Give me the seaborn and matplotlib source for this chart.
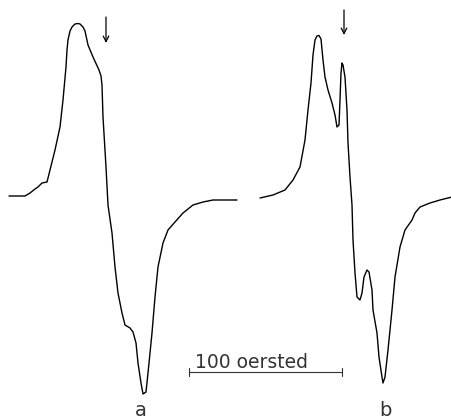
import matplotlib
matplotlib.use("Agg")
import pandas as pd
import seaborn as sns
import matplotlib.pyplot as plt

# traces (x = field position, y = signal, screen units, y grows downward)
a_x = [9, 25, 30, 35, 38, 42, 47, 55, 60, 63, 66, 67, 68, 70, 72, 75, 78, 80, 83, 85, 88, 93, 99,
       101, 102, 103, 106, 108, 112, 115, 118, 122, 125, 130, 133, 136, 138, 141, 143, 146, 148,
       152, 155, 158, 163, 168, 175, 183, 193, 203, 213, 237]
a_y = [196, 196, 193, 189, 187, 183, 182, 150, 127, 100, 67, 50, 40, 31, 27, 24, 23.5, 24, 27, 31,
       45, 57, 70, 76, 85, 117, 167, 205, 233, 267, 293, 313, 325, 328, 332, 343, 363, 383, 394,
       392, 373, 333, 297, 267, 243, 230, 222, 213, 205, 202, 200, 200]

b_x = [260, 273, 285, 293, 300, 305, 308, 311, 313, 315, 317, 319, 321, 323, 325, 328, 332, 335,
       337, 339, 340, 341, 342, 343, 345, 347, 348, 350, 352, 353, 355, 357, 360, 362, 364, 367,
       369, 372, 373, 377, 379, 382, 383, 385, 388, 392, 395, 400, 405, 412, 415, 420, 430, 440,
       452]
b_y = [198, 195, 190, 180, 167, 140, 110, 83, 55, 40, 36, 35.5, 39, 60, 77, 90, 103, 115, 127, 125,
       100, 73, 63, 65, 77, 110, 143, 177, 205, 240, 273, 297, 300, 293, 277, 270, 272, 290, 310,
       333, 357, 377, 383, 377, 350, 310, 277, 247, 230, 220, 213, 207, 203, 200, 197]

arrow_x = [106, 344]
arrow_top = [17, 10]
arrow_bottom = [43, 35]

bar_x = [189, 342]
bar_y = 372
bar_label = "100 oersted"
bar_label_x = 195
panel_labels = ["a", "b"]
panel_label_x = [141, 385]

sns.set_style("white")
fig = plt.figure(figsize=(4.52, 4.18), dpi=100)
ax = fig.add_axes([0, 0, 1, 1])

df = pd.concat([
    pd.DataFrame({"x": a_x, "y": a_y, "trace": "a"}),
    pd.DataFrame({"x": b_x, "y": b_y, "trace": "b"}),
])
sns.lineplot(data=df, x="x", y="y", units="trace", estimator=None, sort=False,
             color="black", linewidth=1.0, ax=ax)

for xa, yt, yb in zip(arrow_x, arrow_top, arrow_bottom):
    ax.annotate("", xy=(xa, yb), xytext=(xa, yt),
                arrowprops=dict(arrowstyle="->", color="black", lw=0.9,
                                shrinkA=0, shrinkB=0, mutation_scale=10))

ax.plot(bar_x, [bar_y, bar_y], color="#333333", lw=0.8)
for bx in bar_x:
    ax.plot([bx, bx], [bar_y - 4, bar_y + 4], color="#333333", lw=0.8)
ax.text(bar_label_x, 368, bar_label, ha="left", va="baseline",
        fontsize=13.5, color="#333333")

for lx, lab in zip(panel_label_x, panel_labels):
    ax.text(lx, 410, lab, ha="center", va="center", fontsize=14, color="#333333")

ax.set_xlim(0, 452)
ax.set_ylim(418, 0)
ax.set_axis_off()
fig.savefig("out.png", dpi=100)
